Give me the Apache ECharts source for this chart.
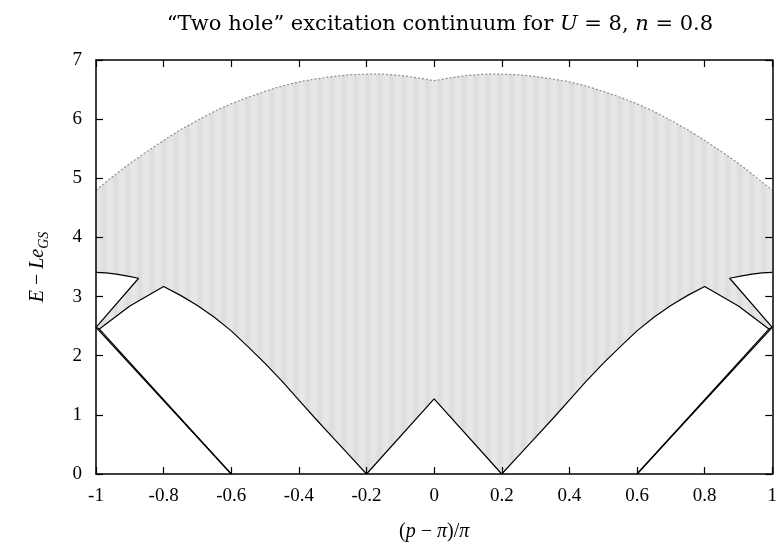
<!DOCTYPE html>
<html>
<head>
<meta charset="utf-8">
<script src="https://cdn.jsdelivr.net/npm/echarts@6/dist/echarts.min.js"></script>
<style>
html,body{margin:0;padding:0;background:#fff;}
#c{width:780px;height:547px;}
</style>
</head>
<body>
<div id="c"></div>
<script>
// ---- data ----
// upper edge of the continuum (grey dotted curve)
const upperX = [-1.00,-0.95,-0.90,-0.85,-0.80,-0.75,-0.70,-0.65,-0.60,-0.55,-0.50,-0.45,-0.40,-0.35,-0.30,-0.25,-0.20,-0.15,-0.10,-0.05,0.00,
                0.05,0.10,0.15,0.20,0.25,0.30,0.35,0.40,0.45,0.50,0.55,0.60,0.65,0.70,0.75,0.80,0.85,0.90,0.95,1.00];
const upperY = [4.80,5.03,5.25,5.45,5.64,5.82,5.98,6.13,6.26,6.37,6.47,6.56,6.63,6.68,6.72,6.75,6.76,6.76,6.74,6.70,6.65,
                6.70,6.74,6.76,6.76,6.75,6.72,6.68,6.63,6.56,6.47,6.37,6.26,6.13,5.98,5.82,5.64,5.45,5.25,5.03,4.80];
// lower edge of the continuum (black line)
const lowerX = [-1.00,-0.99,-0.90,-0.80,-0.75,-0.70,-0.65,-0.60,-0.55,-0.50,-0.45,-0.40,-0.35,-0.30,-0.25,-0.20,0.00,
                0.20,0.25,0.30,0.35,0.40,0.45,0.50,0.55,0.60,0.65,0.70,0.75,0.80,0.90,0.99,1.00];
const lowerY = [2.48,2.45,2.84,3.17,3.02,2.85,2.65,2.42,2.15,1.87,1.57,1.25,0.93,0.62,0.31,0.00,1.27,
                0.00,0.31,0.62,0.93,1.25,1.57,1.87,2.15,2.42,2.65,2.85,3.02,3.17,2.84,2.45,2.48];
// left / right cap boundary (arc, then down to the axis and on to zero)
const capLeftX = [-1.00,-0.97,-0.94,-0.91,-0.874,-1.00,-0.60];
const capLeftY = [3.41,3.40,3.38,3.35,3.31,2.48,0.00];
const capRightX = [1.00,0.97,0.94,0.91,0.874,1.00,0.60];
const capRightY = [3.41,3.40,3.38,3.35,3.31,2.48,0.00];
// second lines from the tips down to zero
const tipLeftX = [-0.99,-0.60];
const tipLeftY = [2.45,0.00];
const tipRightX = [0.99,0.60];
const tipRightY = [2.45,0.00];
// axes
const xMin = -1, xMax = 1, xStep = 0.2;
const yMin = 0, yMax = 7, yStep = 1;

const pts = (xs, ys) => xs.map((x, i) => [x, ys[i]]);

// stripe pattern for the grey fill
const pc = document.createElement('canvas');
pc.width = 12; pc.height = 4;
const g = pc.getContext('2d');
const cols = ['#e6e6e6','#e7e7e7','#e7e7e7','#e6e6e6','#e4e4e4','#e1e1e1','#dedede','#dddddd','#dedede','#e0e0e0','#e3e3e3','#e5e5e5'];
cols.forEach((c, i) => { g.fillStyle = c; g.fillRect(i, 0, 1, 4); });

const FONT = 'Liberation Serif';
const TFONT = 'DejaVu Serif';
const chart = echarts.init(document.getElementById('c'), null, {renderer: 'canvas'});

const tickCommon = {
  type: 'value', min: xMin, max: xMax, interval: xStep, z: 10,
  axisLine: {show: true, onZero: false, lineStyle: {color: '#000', width: 1.5}},
  axisTick: {show: true, inside: true, length: 7, lineStyle: {color: '#000', width: 1.2}},
  splitLine: {show: false}
};
const yCommon = {
  type: 'value', min: yMin, max: yMax, interval: yStep, z: 10,
  axisLine: {show: true, onZero: false, lineStyle: {color: '#000', width: 1.5}},
  axisTick: {show: true, inside: true, length: 7, lineStyle: {color: '#000', width: 1.2}},
  splitLine: {show: false}
};

const lineSeries = (data, extra) => Object.assign({
  type: 'line', data: data, symbol: 'none', silent: true, animation: false,
  xAxisIndex: 0, yAxisIndex: 0,
  lineStyle: {color: '#000', width: 1.2}
}, extra || {});

chart.setOption({
  animation: false,
  backgroundColor: '#fff',
  title: {
    text: '“Two hole” excitation continuum for {i|U} = 8, {i|n} = 0.8',
    left: 435, top: 9, textAlign: 'center',
    textStyle: {
      fontFamily: TFONT, fontSize: 21, fontWeight: 'normal', color: '#000',
      rich: {i: {fontFamily: TFONT, fontSize: 21, fontStyle: 'italic', color: '#000'}}
    }
  },
  grid: {left: 96, right: 6, top: 60, bottom: 73, containLabel: false},
  xAxis: [
    Object.assign({}, tickCommon, {
      position: 'bottom',
      axisLabel: {show: true, margin: 13, color: '#000', fontFamily: FONT, fontSize: 19},
      name: '({i|p} − {i|π})/{i|π}',
      nameLocation: 'middle', nameGap: 48,
      nameTextStyle: {fontFamily: FONT, fontSize: 20, color: '#000',
        rich: {i: {fontFamily: FONT, fontSize: 20, fontStyle: 'italic', color: '#000'}}}
    }),
    Object.assign({}, tickCommon, {position: 'top', axisLabel: {show: false}})
  ],
  yAxis: [
    Object.assign({}, yCommon, {
      position: 'left',
      axisLabel: {show: true, margin: 14, color: '#000', fontFamily: FONT, fontSize: 19},
      name: '{i|E} − {i|Le}{s|GS}',
      nameLocation: 'middle', nameGap: 58, nameRotate: 90,
      nameTextStyle: {fontFamily: FONT, fontSize: 20, color: '#000', lineHeight: 26, verticalAlign: 'middle',
        rich: {
          i: {fontFamily: FONT, fontSize: 20, fontStyle: 'italic', color: '#000', lineHeight: 26, verticalAlign: 'middle'},
          s: {fontFamily: FONT, fontSize: 14, fontStyle: 'italic', color: '#000', lineHeight: 26, verticalAlign: 'bottom'}
        }}
    }),
    Object.assign({}, yCommon, {position: 'right', axisLabel: {show: false}})
  ],
  series: [
    lineSeries(pts(upperX, upperY), {
      z: 1,
      lineStyle: {color: '#8c8c8c', width: 1.2, type: [2, 2]},
      areaStyle: {color: {image: pc, repeat: 'repeat'}, opacity: 1, origin: 'start'}
    }),
    lineSeries(pts(lowerX, lowerY), {
      z: 2,
      areaStyle: {color: '#fff', opacity: 1, origin: 'start'}
    }),
    lineSeries(pts(capLeftX, capLeftY), {
      z: 3,
      areaStyle: {color: '#fff', opacity: 1, origin: 'start'}
    }),
    lineSeries(pts(capRightX, capRightY), {
      z: 3,
      areaStyle: {color: '#fff', opacity: 1, origin: 'start'}
    }),
    lineSeries(pts(tipLeftX, tipLeftY), {z: 4}),
    lineSeries(pts(tipRightX, tipRightY), {z: 4})
  ]
});
</script>
</body>
</html>
